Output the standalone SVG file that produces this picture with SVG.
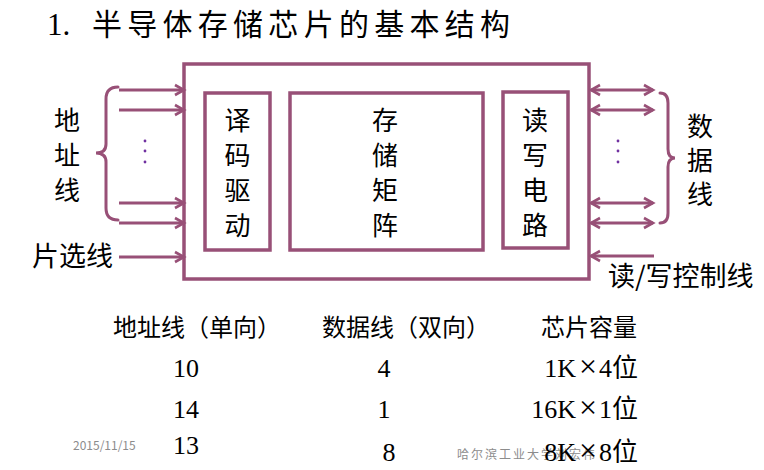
<svg xmlns="http://www.w3.org/2000/svg" width="764" height="470" viewBox="0 0 764 470">
<defs>
<style>
.box{fill:none;stroke:#985077;stroke-width:3.5}
.ln{fill:none;stroke:#985077;stroke-width:3}
.br{fill:none;stroke:#985077;stroke-width:3;stroke-linecap:round}
.cj{font-family:"Noto Sans CJK SC","Noto Sans",sans-serif;fill:#000}
.sf{font-family:"Liberation Serif","Noto Sans CJK SC",serif;fill:#000}
.x{font-size:32px}
.dot{fill:#7030a0}
.ft{font-family:"Noto Sans CJK SC","Liberation Sans",sans-serif;fill:#8c8c8c}
</style>
<marker id="ah" markerUnits="userSpaceOnUse" markerWidth="12" markerHeight="12" refX="0" refY="0" orient="auto" overflow="visible">
<path d="M-9,-5 L0,0 L-9,5" fill="none" stroke="#985077" stroke-width="2.6"/>
</marker>
<marker id="as" markerUnits="userSpaceOnUse" markerWidth="12" markerHeight="12" refX="0" refY="0" orient="auto-start-reverse" overflow="visible">
<path d="M-9,-5 L0,0 L-9,5" fill="none" stroke="#985077" stroke-width="2.6"/>
</marker>
</defs>
<rect width="764" height="470" fill="#fff"/>

<g id="title">
<text class="sf" x="47" y="35" font-size="31">1.</text>
<text class="cj" x="92" y="35" font-size="30" textLength="418" lengthAdjust="spacing">半导体存储芯片的基本结构</text>
</g>

<g id="chip">
<rect class="box" x="184" y="64" width="405" height="215"/>
</g>
<g id="decoder">
<rect class="box" x="205" y="93" width="65" height="157"/>
<text class="cj" font-size="26" text-anchor="middle"><tspan x="237.5" y="130">译</tspan><tspan x="237.5" y="165">码</tspan><tspan x="237.5" y="200">驱</tspan><tspan x="237.5" y="235">动</tspan></text>
</g>
<g id="matrix">
<rect class="box" x="290" y="93" width="193" height="157"/>
<text class="cj" font-size="26" text-anchor="middle"><tspan x="385" y="130">存</tspan><tspan x="385" y="165">储</tspan><tspan x="385" y="200">矩</tspan><tspan x="385" y="235">阵</tspan></text>
</g>
<g id="rwcircuit">
<rect class="box" x="503" y="92" width="65" height="156"/>
<text class="cj" font-size="26" text-anchor="middle"><tspan x="535" y="130">读</tspan><tspan x="535" y="165">写</tspan><tspan x="535" y="200">电</tspan><tspan x="535" y="235">路</tspan></text>
</g>

<g id="addr-label">
<text class="cj" font-size="26" text-anchor="middle"><tspan x="67" y="130">地</tspan><tspan x="67" y="165">址</tspan><tspan x="67" y="200">线</tspan></text>
<path class="br" d="M118,87 Q106,87 106,99 L106,144 Q106,153 96,153 Q106,153 106,162 L106,208 Q106,220 118,220"/>
<circle class="dot" cx="145" cy="141" r="1.4"/>
<circle class="dot" cx="145" cy="151" r="1.4"/>
<circle class="dot" cx="145" cy="162" r="1.4"/>
</g>
<g id="cs-label">
<text class="cj" x="32" y="266" font-size="27">片选线</text>
</g>
<g id="data-label">
<text class="cj" font-size="26" text-anchor="middle"><tspan x="700" y="136">数</tspan><tspan x="700" y="170">据</tspan><tspan x="700" y="204">线</tspan></text>
<path class="br" d="M660,93 Q668,93 668,103 L668,149 Q668,158 675,158 Q668,158 668,167 L668,213 Q668,223 660,223"/>
<circle class="dot" cx="618" cy="141" r="1.4"/>
<circle class="dot" cx="618" cy="151" r="1.4"/>
<circle class="dot" cx="618" cy="162" r="1.4"/>
</g>
<g id="rw-label">
<text class="cj" x="608" y="286" font-size="27">读/写控制线</text>
</g>

<g id="connectors">
<line class="ln" x1="119" y1="90" x2="184" y2="90" marker-end="url(#ah)"/>
<line class="ln" x1="119" y1="110" x2="184" y2="110" marker-end="url(#ah)"/>
<line class="ln" x1="119" y1="203" x2="184" y2="203" marker-end="url(#ah)"/>
<line class="ln" x1="119" y1="223" x2="184" y2="223" marker-end="url(#ah)"/>
<line class="ln" x1="119" y1="257" x2="184" y2="257" marker-end="url(#ah)"/>
<line class="ln" x1="591" y1="90" x2="653" y2="90" marker-start="url(#as)" marker-end="url(#ah)"/>
<line class="ln" x1="591" y1="110" x2="653" y2="110" marker-start="url(#as)" marker-end="url(#ah)"/>
<line class="ln" x1="591" y1="203" x2="653" y2="203" marker-start="url(#as)" marker-end="url(#ah)"/>
<line class="ln" x1="591" y1="223" x2="653" y2="223" marker-start="url(#as)" marker-end="url(#ah)"/>
<line class="ln" x1="654" y1="256" x2="591" y2="256" marker-end="url(#ah)"/>
</g>

<g id="table">
<text class="cj" x="113" y="336" font-size="24">地址线（单向）</text>
<text class="cj" x="322" y="336" font-size="24">数据线（双向）</text>
<text class="cj" x="541" y="336" font-size="24">芯片容量</text>
<text class="sf" x="173" y="377" font-size="26">10</text>
<text class="sf" x="384" y="377" font-size="26" text-anchor="middle">4</text>
<text class="sf" x="638" y="377" font-size="26" text-anchor="end">1K<tspan class="x" dx="3">×</tspan><tspan dx="2">4位</tspan></text>
<text class="sf" x="173" y="418" font-size="26">14</text>
<text class="sf" x="384" y="418" font-size="26" text-anchor="middle">1</text>
<text class="sf" x="638" y="418" font-size="26" text-anchor="end">16K<tspan class="x" dx="3">×</tspan><tspan dx="2">1位</tspan></text>
</g>

<g id="footer">
<text class="ft" x="73" y="450" font-size="12">2015/11/15</text>
<text class="ft" x="457" y="459" font-size="12" textLength="138" lengthAdjust="spacing">哈尔滨工业大学刘宏伟</text>
</g>

<g id="table-row3">
<text class="sf" x="173" y="454" font-size="26">13</text>
<text class="sf" x="389" y="461" font-size="26" text-anchor="middle">8</text>
<text class="sf" x="638" y="461" font-size="26" text-anchor="end">8K<tspan class="x" dx="3">×</tspan><tspan dx="2">8位</tspan></text>
</g>
</svg>
